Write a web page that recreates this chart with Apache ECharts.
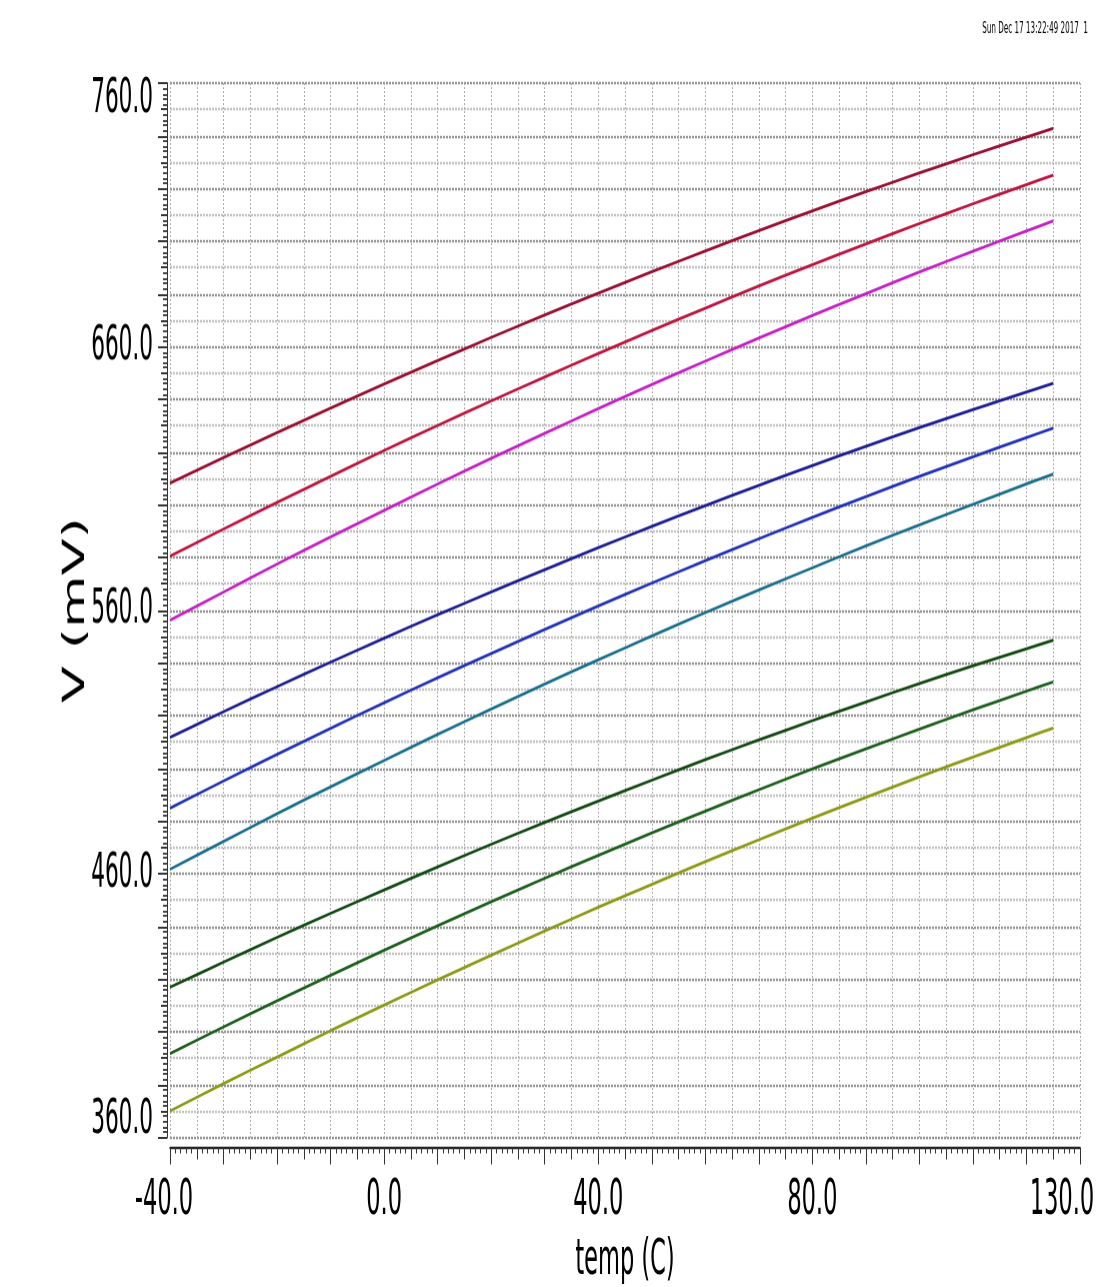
<!DOCTYPE html>
<html><head><meta charset="utf-8">
<script src="https://cdn.jsdelivr.net/npm/echarts@6/dist/echarts.min.js"></script>
<style>
html,body{margin:0;padding:0;background:#fff;overflow:hidden}
#wrap{width:1096px;height:1287px;overflow:hidden;background:#fff}
#c{width:1096px;height:643.5px;transform:scaleY(2);transform-origin:0 0}
</style>
</head><body><div id="wrap"><div id="c"></div></div>
<script>
// ---- data ----
const temps = [-40,-30,-20,-10,0,10,20,30,40,50,60,70,80,90,100,110,120,125];
const v1 = [608.2,617.9,627.4,636.7,645.8,654.7,663.5,672.0,680.3,688.4,696.3,704.0,711.5,718.8,725.9,732.8,739.5,742.8];
const v2 = [580.5,590.8,600.9,610.8,620.6,630.1,639.4,648.5,657.4,666.1,674.6,683.0,691.1,699.0,706.7,714.2,721.5,725.1];
const v3 = [556.2,566.9,577.5,587.8,597.9,607.9,617.6,627.1,636.5,645.6,654.5,663.3,671.8,680.1,688.3,696.2,703.9,707.7];
const v4 = [511.8,521.5,531.0,540.3,549.4,558.3,566.9,575.4,583.7,591.8,599.7,607.4,614.9,622.2,629.3,636.1,642.8,646.1];
const v5 = [484.9,495.2,505.3,515.2,524.9,534.4,543.6,552.7,561.6,570.3,578.8,587.1,595.2,603.1,610.8,618.2,625.5,629.1];
const v6 = [461.7,472.3,482.8,493.0,503.0,512.9,522.5,532.0,541.2,550.2,559.1,567.7,576.1,584.4,592.4,600.2,607.9,611.6];
const v7 = [417.0,426.5,435.9,445.0,453.9,462.6,471.2,479.5,487.6,495.5,503.3,510.8,518.1,525.2,532.2,538.9,545.4,548.6];
const v8 = [391.8,401.9,411.8,421.5,431.0,440.3,449.4,458.3,467.0,475.5,483.8,491.9,499.8,507.4,514.9,522.2,529.3,532.8];
const v9 = [370.0,380.4,390.5,400.5,410.2,419.8,429.1,438.3,447.3,456.0,464.6,472.9,481.1,489.0,496.8,504.3,511.7,515.3];
const xTickValues = [-40, 0, 40, 80, 130];
const xTickLabels = ['-40.0', '0.0', '40.0', '80.0', '130.0'];
const yTickValues = [360, 460, 560, 660, 760];
const yTickLabels = ['360.0', '460.0', '560.0', '660.0', '760.0'];
const xName = 'temp (C)';
const yName = 'V (mV)';
const stamp = 'Sun Dec 17 13:22:49 2017  1';

// ---- styles ----
const seriesValues = [v1, v2, v3, v4, v5, v6, v7, v8, v9];
const colors = ['#9a0e30', '#c0143e', '#c81ec6', '#1e1e96', '#2232bc', '#1a6e8e', '#124a12', '#1c601c', '#8c9a14'];
const FONT = "'Liberation Sans Narrow','DejaVu Sans Condensed','Arial Narrow',sans-serif";

const chart = echarts.init(document.getElementById('c'), null, {width: 1096, height: 643.5, devicePixelRatio: 2});

const series = seriesValues.map((vals, i) => ({
  type: 'line',
  xAxisIndex: 0, yAxisIndex: 0,
  data: temps.map((t, k) => [t, vals[k]]),
  showSymbol: false,
  smooth: 0.3,
  lineStyle: {color: colors[i], width: 1.5},
  itemStyle: {color: colors[i]},
  z: 5
}));

const YFS = 24, XFS = 25;
const lblStyle = {fontFamily: FONT, fontSize: YFS, color: '#000'};

chart.setOption({
  animation: false,
  backgroundColor: '#fff',
  grid: {left: 170, right: 16, top: 41.5, bottom: 75.25, containLabel: false, outerBoundsMode: 'none'},
  graphic: [{
    type: 'text', right: 8, top: 10.5,
    style: {text: stamp, font: '8px ' + FONT, fill: '#000'}
  }],
  xAxis: [{
    type: 'value', min: -40, max: 130, interval: 5, offset: 5,
    position: 'bottom',
    name: xName, nameLocation: 'middle', nameGap: 44, nameMoveOverlap: false,
    nameTextStyle: {fontFamily: FONT, fontSize: 25, color: '#000'},
    axisLine: {show: true, onZero: false, lineStyle: {color: '#222', width: 1.2}},
    axisTick: {show: true, length: 6, lineStyle: {color: '#333', width: 1}},
    minorTick: {show: true, splitNumber: 5, length: 3, lineStyle: {color: '#333', width: 1}},
    splitLine: {show: true, lineStyle: {color: '#acacac', width: 1, type: [1, 1]}},
    axisLabel: {
      margin: 14, fontFamily: FONT, fontSize: XFS, color: '#000',
      formatter: (v) => {
        const i = xTickValues.indexOf(v);
        if (i < 0) return '';
        if (v === 130) return '{r|' + xTickLabels[i] + '}';
        if (v === -40) return '{l|' + xTickLabels[i] + '}';
        return xTickLabels[i];
      },
      rich: {
        r: {fontFamily: FONT, fontSize: XFS, color: '#000', padding: [0, 36, 0, 0]},
        l: {fontFamily: FONT, fontSize: XFS, color: '#000', padding: [0, 12, 0, 0]}
      }
    }
  }, {
    type: 'value', min: -40, max: 130, interval: 10, offset: 5,
    position: 'bottom',
    axisLine: {show: false, onZero: false},
    axisTick: {show: true, length: 8.5, lineStyle: {color: '#333', width: 1}},
    splitLine: {show: false},
    axisLabel: {show: false}
  }],
  yAxis: [{
    type: 'value', min: 360, max: 760, interval: 10, offset: 3,
    position: 'left',
    name: yName, nameLocation: 'middle', nameGap: 76, nameRotate: 90, nameMoveOverlap: false,
    nameTextStyle: {fontFamily: FONT, fontSize: 30, color: '#000'},
    axisLine: {show: true, onZero: false, lineStyle: {color: '#333', width: 1}},
    axisTick: {show: true, length: 6, lineStyle: {color: '#333', width: 1}},
    minorTick: {show: true, splitNumber: 5, length: 4, lineStyle: {color: '#444', width: 1}},
    splitLine: {show: true, lineStyle: {color: ['#939393', '#c2c2c2'], width: 1.3, type: [2, 1]}},
    axisLabel: {
      margin: 14, fontFamily: FONT, fontSize: YFS, color: '#000',
      formatter: (v) => {
        const i = yTickValues.indexOf(v);
        if (i < 0) return '';
        if (v === 760) return '{t|' + yTickLabels[i] + '}';
        if (v === 360) return '{b|' + yTickLabels[i] + '}';
        return yTickLabels[i];
      },
      rich: {
        t: Object.assign({padding: [17, 0, 0, 0]}, lblStyle),
        b: Object.assign({padding: [0, 0, 17, 0]}, lblStyle)
      }
    }
  }, {
    type: 'value', min: 360, max: 760, interval: 20, offset: 3,
    position: 'left',
    axisLine: {show: false, onZero: false},
    axisTick: {show: true, length: 9, lineStyle: {color: '#333', width: 1}},
    splitLine: {show: false},
    axisLabel: {show: false}
  }],
  series: series
});
</script>
</body></html>
